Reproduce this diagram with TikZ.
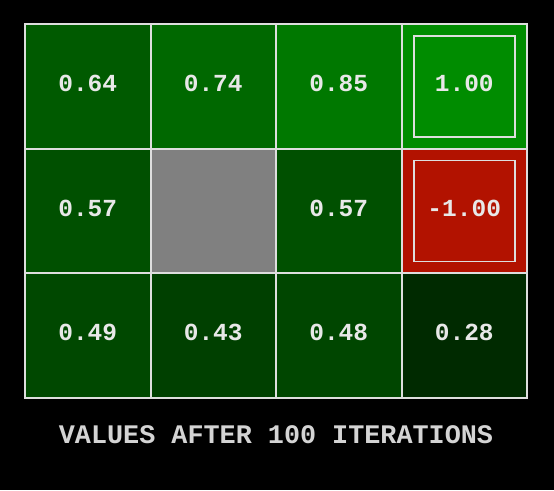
\documentclass[tikz,border=0pt]{standalone}
\usepackage{fontspec}
\setmonofont{Liberation Mono}
\usepackage{xcolor}
\definecolor{gridline}{RGB}{222, 222, 222}
\definecolor{valtext}{RGB}{232, 232, 232}
\definecolor{titletext}{RGB}{212, 212, 212}
\definecolor{wallgray}{RGB}{128, 128, 128}
\definecolor{exitred}{RGB}{178, 18, 0}
\definecolor{vA}{RGB}{0, 90, 0}
\definecolor{vB}{RGB}{0, 104, 0}
\definecolor{vC}{RGB}{0, 120, 0}
\definecolor{vD}{RGB}{0, 140, 0}
\definecolor{vE}{RGB}{0, 80, 0}
\definecolor{vF}{RGB}{0, 72, 0}
\definecolor{vG}{RGB}{0, 64, 0}
\definecolor{vH}{RGB}{0, 70, 0}
\definecolor{vI}{RGB}{0, 42, 0}

\begin{document}
\begin{tikzpicture}[x=1pt, y=-1pt,
    cell/.style={draw=gridline, line width=2pt, minimum width=125.5pt,
      minimum height=124.7pt, inner sep=0pt, outer sep=0pt},
    val/.style={text=valtext, yshift=3pt,
      font=\ttfamily\bfseries\fontsize{24.5}{24.5}\selectfont},
    exitframe/.style={draw=gridline, line width=1.5pt, minimum width=101pt,
      minimum height=101pt, inner sep=0pt}]
    % Background
    \fill[black] (0, 0) rectangle (554, 490);
    \useasboundingbox (0, 0) rectangle (554, 490);

    % Top row
    \node[cell, fill=vA] (c11) at (87.75, 86.35) {};
    \node[cell, fill=vB] (c12) at (213.25, 86.35) {};
    \node[cell, fill=vC] (c13) at (338.75, 86.35) {};
    \node[cell, fill=vD] (c14) at (464.25, 86.35) {};

    % Middle row
    \node[cell, fill=vE] (c21) at (87.75, 211.05) {};
    \node[cell, fill=wallgray] (c22) at (213.25, 211.05) {};
    \node[cell, fill=vE] (c23) at (338.75, 211.05) {};
    \node[cell, fill=exitred] (c24) at (464.25, 211.05) {};

    % Bottom row
    \node[cell, fill=vF] (c31) at (87.75, 335.75) {};
    \node[cell, fill=vG] (c32) at (213.25, 335.75) {};
    \node[cell, fill=vH] (c33) at (338.75, 335.75) {};
    \node[cell, fill=vI] (c34) at (464.25, 335.75) {};

    % Exit frames
    \node[exitframe] (goal) at (c14.center) {};
    \node[exitframe] (pit) at (c24.center) {};

    % Values
    \node[val] (v11) at (c11.center) {0.64};
    \node[val] (v12) at (c12.center) {0.74};
    \node[val] (v13) at (c13.center) {0.85};
    \node[val] (v14) at (c14.center) {1.00};
    \node[val] (v21) at (c21.center) {0.57};
    \node[val] (v23) at (c23.center) {0.57};
    \node[val] (v24) at (c24.center) {-1.00};
    \node[val] (v31) at (c31.center) {0.49};
    \node[val] (v32) at (c32.center) {0.43};
    \node[val] (v33) at (c33.center) {0.48};
    \node[val] (v34) at (c34.center) {0.28};

    % Caption
    \node[text=titletext, font=\ttfamily\bfseries\fontsize{26.8}{26.8}\selectfont]
      (caption) at (276, 435) {VALUES AFTER 100 ITERATIONS};
\end{tikzpicture}
\end{document}
